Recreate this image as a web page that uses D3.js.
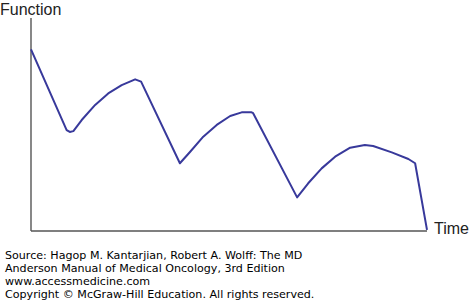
<!DOCTYPE html>
<html>
<head>
<meta charset="utf-8">
<script src="https://cdn.jsdelivr.net/npm/d3@7"></script>
<style>
  body { margin: 0; background: #fff; }
</style>
</head>
<body>
<script>
// Curve (time 0-100, function 0-100)
const time = [0, 9.0, 9.8, 10.7, 12.8, 16.2, 19.5, 22.9, 26.3, 27.8,
  37.6, 40.2, 43.5, 46.9, 50.3, 53.2, 55.7, 56.1,
  67.2, 70.0, 73.4, 76.8, 80.6, 84.3, 86.4, 91.1, 95.3, 97.0, 100];
const func = [85.3, 47.4, 46.5, 46.9, 52.1, 59.2, 64.6, 68.5, 71.2, 70.1,
  31.8, 37.2, 44.3, 49.8, 54.0, 55.7, 55.7, 55.3,
  15.8, 22.4, 29.4, 34.9, 39.1, 40.4, 39.9, 36.9, 33.8, 31.8, 0.5];

const axisLabels = { y: "Function", x: "Time" };
const sourceLines = [
  "Source: Hagop M. Kantarjian, Robert A. Wolff: The MD",
  "Anderson Manual of Medical Oncology, 3rd Edition",
  "www.accessmedicine.com",
  "Copyright \u00a9 McGraw-Hill Education. All rights reserved."
];

// Canvas config
const config = { width: 470, height: 301 };

const svg = d3
  .select("body")
  .append("svg")
  .attr("width", config.width)
  .attr("height", config.height);

const x = d3.scaleLinear().domain([0, 100]).range([31, 427]);
const y = d3.scaleLinear().domain([0, 100]).range([231, 18]);

// Axes (plain lines, no ticks)
svg.append("line")
  .attr("x1", x(0)).attr("x2", x(0))
  .attr("y1", y(100)).attr("y2", y(0))
  .attr("stroke", "#555").attr("stroke-width", 1.4);

svg.append("line")
  .attr("x1", x(0)).attr("x2", x(100))
  .attr("y1", y(0)).attr("y2", y(0))
  .attr("stroke", "#555").attr("stroke-width", 1.4);

// The curve
const points = time.map((t, i) => [t, func[i]]);
const line = d3.line()
  .x(d => x(d[0]))
  .y(d => y(d[1]))
  .curve(d3.curveLinear);

svg.append("path")
  .datum(points)
  .attr("d", line)
  .attr("fill", "none")
  .attr("stroke", "#38399b")
  .attr("stroke-width", 2)
  .attr("stroke-linejoin", "round");

// Axis labels
svg.append("text")
  .attr("x", 0).attr("y", 14.5)
  .attr("font-family", "Liberation Sans, Arial, sans-serif")
  .attr("font-size", 16)
  .attr("fill", "#222")
  .text(axisLabels.y);

svg.append("text")
  .attr("x", 434).attr("y", 234)
  .attr("font-family", "Liberation Sans, Arial, sans-serif")
  .attr("font-size", 16)
  .attr("fill", "#222")
  .text(axisLabels.x);

// Source footer
svg.append("g")
  .selectAll("text")
  .data(sourceLines)
  .enter()
  .append("text")
  .attr("x", 5)
  .attr("y", (d, i) => 259 + i * 13)
  .attr("font-family", "DejaVu Sans, Verdana, sans-serif")
  .attr("font-size", 11.1)
  .attr("fill", "#000")
  .text(d => d);
</script>
</body>
</html>
